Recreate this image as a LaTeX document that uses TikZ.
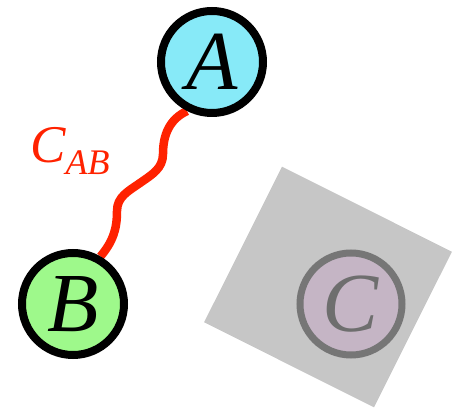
\documentclass[tikz,border=0pt]{standalone}
\usepackage{fontspec}
\setmainfont{Liberation Serif}
\usetikzlibrary{backgrounds}

\definecolor{fillA}{RGB}{135,234,248}
\definecolor{fillB}{RGB}{158,249,139}
\definecolor{fillC}{RGB}{197,181,197}
\definecolor{lineC}{RGB}{118,118,118}
\definecolor{textC}{RGB}{110,110,110}
\definecolor{shadegray}{RGB}{198,198,198}
\definecolor{bondred}{RGB}{255,34,0}

\begin{document}
\begin{tikzpicture}[
  x=1pt, y=1pt,
  vert/.style={circle, draw=black, line width=8pt, minimum size=102pt,
               inner sep=0pt, font=\rmfamily\fontsize{84}{84}\selectfont\itshape},
  ghost/.style={vert, draw=lineC, fill=fillC, text=textC, line width=7pt},
  shade/.style={rectangle, fill=shadegray, minimum width=190pt,
                minimum height=174pt, inner sep=0pt},
  bond/.style={draw=bondred, line width=8.5pt},
  lbl/.style={text=bondred, inner sep=0pt,
              font=\rmfamily\fontsize{53}{53}\selectfont\itshape},
]
\useasboundingbox (0,0) rectangle (474,409);
% shaded block with the faded vertex
\node (blk) [shade, rotate=-26.6] at (328,122) {};
\node (C) [ghost] at (351,105) {C};
% the two vertices
\node (A) [vert, fill=fillA] at (212,347) {A};
\node (B) [vert, fill=fillB] at (73,105) {B};
% wavy bond between them
\begin{scope}[on background layer]
  \draw [bond] (A.243) to[out=205, in=90] (163,255)
                       to[out=270, in=35] (140,226)
                       to[out=215, in=90] (117,198)
                       to[out=270, in=50] (B.60);
\end{scope}
\node (cab) [lbl, anchor=base west] at (30,246)
  {C\raisebox{-12pt}{\fontsize{36}{36}\selectfont AB}};
\end{tikzpicture}
\end{document}
